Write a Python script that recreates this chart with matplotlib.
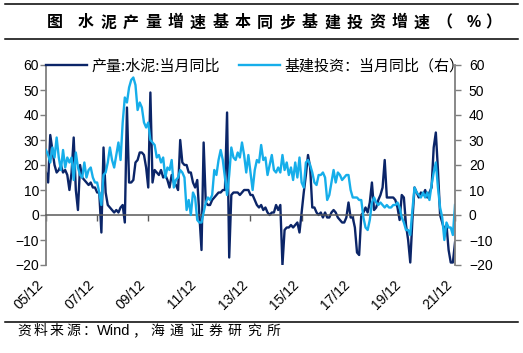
import matplotlib
matplotlib.use("Agg")
import matplotlib.pyplot as plt
from matplotlib.lines import Line2D
import numpy as np

# %% data, monthly from 2005/12 to 2021/12
tick_labels = ["05/12", "07/12", "09/12", "11/12", "13/12",
               "15/12", "17/12", "19/12", "21/12"]

cement = [17, 13, 32, 26, 20, 17, 18, 20, 17, 18,
          16, 10, 17, 31, 10, 2, 20, 15, 14, 13,
          12, 13, 11, 11, 9, 9, -7, 27, 9, 4,
          3, 2, 1, 2, 1, 3, 4, -3, 43, 13,
          13, 14, 21, 22, 25, 25, 24, 19, 11, 49,
          13, 18, 17, 16, 18, 15, 16, 14, 11, 16,
          13, 12, 10, 30, 21, 20, 20, 17, 17, 13,
          11, 14, 0, -14, 29, 5, 4, 4, 6, 7,
          8, 9, 9, 10, 10, 41, -17, 8, 9, 9,
          9, 8, 9, 10, 10, 10, 8, 8, 6, 4,
          3, 4, 2, 3, 1, 0, 1, 1, 4, 2,
          4, -20, -6, -5, -5, -4, -5, -4, -3, -7,
          1, 9, 16, 24, 19, 3, 3, 1, 0, 1,
          -1, 1, -1, -1, 1, 2, 1, -1, -2, -3,
          -3, -1, 5, -1, -1, -5, -15, -16, 0, 1,
          3, 1, 5, 13, 2, 3, 6, 8, 11, 22,
          7, 7, 7, 7, 6, 3, -2, 8, 7, -4,
          -10, -19, -2, 11, 9, 7, 9, 8, 10, 7,
          9, 11, 27, 33, 18, 0, -3, -6, -4, -14,
          -19, -19, -11]

infra = [26, 24, 21, 27, 23, 31, 23, 18, 26, 19,
         23, 21, 23, 14, 25, 19, 16, 15, 21, 15,
         18, 19, 15, 13, 13, 9, 4, 16, 17, 21,
         27, 22, 19, 24, 29, 22, 37, 47, 45, 51,
         54, 55, 52, 42, 45, 43, 37, 35, 37, 30,
         29, 28, 23, 24, 21, 23, 15, 19, 18, 22,
         11, 14, 15, 18, 17, 15, 2, 6, 0, 9,
         7, -2, -3, -3, 1, 5, 7, 6, 8, 18,
         16, 22, 26, 22, 15, 8, 16, 27, 23, 22,
         25, 23, 29, 24, 17, 24, 17, 10, 18, 22,
         21, 28, 22, 23, 16, 20, 24, 18, 17, 19,
         17, 24, 18, 21, 16, 19, 14, 21, 15, 23,
         13, 11, 21, 22, 20, 17, 13, 12, 16, 16,
         17, 15, 6, 8, 13, 18, 13, 17, 16, 14,
         15, 16, 16, 10, 7, 7, 7, 6, 6, -1,
         -5, -6, -2, 5, 7, 5, 4, 5, 4, 3,
         4, 3, 3, 4, 4, 5, 3, -1, -3, -6,
         -6, -8, 2, 11, 9, 8, 7, 9, 7, 9,
         6, 12, 17, 21, 11, 3, -1, -10, -3, -5,
         -5, -8, 4]

label_cement = "产量:水泥:当月同比"
label_infra = "基建投资：当月同比（右）"

# %% figure
W, H = 523, 353
plt.rcParams['font.family'] = ['Liberation Sans', 'Noto Sans CJK SC', 'DejaVu Sans']
cjk = ['Noto Sans CJK SC', 'DejaVu Sans']
navy = '#0b2568'
sky = '#16aeea'
grey = '#7f7f7f'

fig = plt.figure(figsize=(W / 100, H / 100), dpi=100)
ax = fig.add_axes([46 / W, 1 - 265 / H, (455 - 46) / W, 200 / H])
ax2 = ax.twinx()

x = np.arange(len(cement))
l1, = ax.plot(x, cement, color=navy, lw=1.7, label=label_cement)
l2, = ax2.plot(x, infra, color=sky, lw=1.7, label=label_infra)

for a in (ax, ax2):
    a.set_ylim(-20, 60)
    a.set_yticks(range(-20, 61, 10))
    a.set_xlim(0, 192)
    a.spines['top'].set_visible(False)
    a.tick_params(axis='y', labelsize=10, length=4, width=1, color=grey)

ax.spines['right'].set_visible(False)
ax2.spines['left'].set_visible(False)
ax2.spines['bottom'].set_visible(False)
ax.spines['left'].set_color(grey)
ax.spines['left'].set_linewidth(1.3)
ax2.spines['right'].set_color(grey)
ax2.spines['right'].set_linewidth(1.3)
ax.tick_params(axis='y', pad=1)
ax2.tick_params(axis='y', pad=6)

# x axis sits on the zero line, labels at the bottom
ax.spines['bottom'].set_position(('data', 0))
ax.spines['bottom'].set_color('#595959')
ax.spines['bottom'].set_linewidth(1.1)
ax.set_xticks(np.arange(0, len(cement), 24))
ax.set_xticklabels(tick_labels, rotation=45, ha='right', fontsize=10)
ax.tick_params(axis='x', length=4, width=1, color='#595959', pad=41)

ax2.legend([l1, l2], [label_cement, label_infra], ncol=2, loc='upper left',
           bbox_to_anchor=(0, 1.03), frameon=False, borderaxespad=0, borderpad=0,
           handlelength=2.7, handletextpad=0.3, columnspacing=1.3,
           prop={'family': cjk, 'size': 10.8})

# %% title, rules and source
def spaced(s, x0, y, step, narrow=0.5, **kw):
    xx = x0
    for ch in s:
        fig.text(xx / W, 1 - y / H, ch, ha='left', va='center', **kw)
        xx += step if ord(ch) > 255 else step * narrow

fig.text(47 / W, 1 - 22.5 / H, "图", ha='left', va='center', family=cjk,
         fontsize=11.5, fontweight='bold')
spaced("水泥产量增速基本同步基建投资增速（", 78, 22.5, 22.4,
       family=cjk, fontsize=11.5, fontweight='bold')
fig.text(467 / W, 1 - 22.5 / H, "%", ha='left', va='center',
         fontsize=11.5, fontweight='bold')
fig.text(485 / W, 1 - 22.5 / H, "）", ha='left', va='center', family=cjk,
         fontsize=11.5, fontweight='bold')

for yy in (4, 39, 322):
    fig.add_artist(Line2D([5 / W, 518 / W], [1 - yy / H] * 2, color='black', lw=1.1))

spaced("资料来源：", 17, 331, 16.5, family=cjk, fontsize=10)
fig.text(97 / W, 1 - 331 / H, "Wind", ha='left', va='center', fontsize=10.5)
spaced("，", 132, 331, 18, family=cjk, fontsize=10)
spaced("海通证券研究所", 150, 331, 19.5, family=cjk, fontsize=10)

fig.savefig("out.png", dpi=100)
